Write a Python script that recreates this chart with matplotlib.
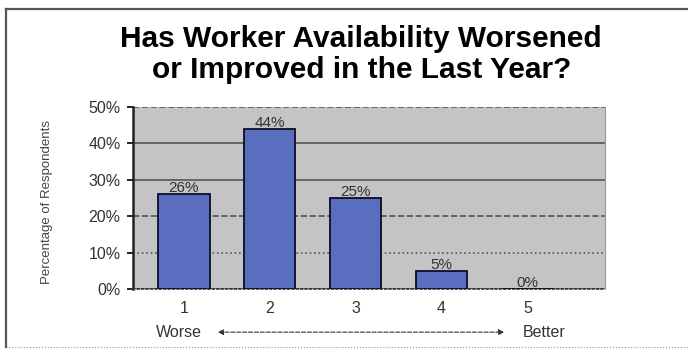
import matplotlib.pyplot as plt
from matplotlib.lines import Line2D

plt.rcParams['font.family'] = ['Liberation Sans', 'DejaVu Sans']

ratings = [1, 2, 3, 4, 5]
tick_labels = ['1', '2', '3', '4', '5']
pct = [26, 44, 25, 5, 0]
bar_labels = ['26%', '44%', '25%', '5%', '0%']
y_ticks = [0, 10, 20, 30, 40, 50]
title_lines = ['Has Worker Availability Worsened', 'or Improved in the Last Year?']

fig = plt.figure(figsize=(6.88, 3.5), dpi=100)
ax = fig.add_axes([0.1933, 0.1743, 0.686, 0.52])
ax.set_facecolor('#c4c4c4')

ax.bar(ratings, pct, width=0.6, color='#5a6ec0', edgecolor='#0c0c28',
       linewidth=1.3, zorder=3)
for x, v, lab in zip(ratings, pct, bar_labels):
    ax.text(x, v - 0.3, lab, ha='center', va='bottom', fontsize=11,
            color='#333333', zorder=4)

ax.set_xlim(0.41, 5.9)
ax.set_ylim(0, 50)
ax.set_yticks(y_ticks)
ax.set_yticklabels([f'{t}%' for t in y_ticks], fontsize=11.5, color='#333333')
ax.set_xticks(ratings)
ax.set_xticklabels(tick_labels, fontsize=11.5, color='#333333')
ax.tick_params(axis='x', length=0, pad=9)
ax.tick_params(axis='y', length=4, width=1.2, direction='out', pad=5)

ax.yaxis.grid(True, color='#555555', linewidth=1.2, zorder=1)
styles = ['-', ':', '--', '-', '-', '--']
for gl, ls in zip(ax.get_ygridlines(), styles):
    gl.set_linestyle(ls)

ax.spines['top'].set_visible(False)
ax.spines['right'].set_color('#999999')
ax.spines['left'].set_linewidth(1.8)
ax.spines['left'].set_color('#222222')
ax.spines['bottom'].set_linestyle(':')
ax.spines['bottom'].set_color('#333333')
ax.spines['bottom'].set_linewidth(1.2)

ax.set_ylabel('Percentage of Respondents', fontsize=9.5, color='#444444')
ax.yaxis.set_label_coords(-0.17, 0.48)

fig.text(0.525, 0.8657, title_lines[0], ha='center', va='baseline',
         fontsize=21.5, fontweight='bold')
fig.text(0.525, 0.777, title_lines[1], ha='center', va='baseline',
         fontsize=21.5, fontweight='bold')

fig.text(0.260, 0.051, 'Worse', ha='center', va='center', fontsize=11.5,
         color='#333333')
fig.text(0.791, 0.051, 'Better', ha='center', va='center', fontsize=11.5,
         color='#333333')
ax.annotate('', xy=(0.737, 0.051), xytext=(0.3125, 0.051),
            xycoords='figure fraction',
            arrowprops=dict(arrowstyle='<|-|>', linestyle='--', color='#333333',
                            lw=0.8, mutation_scale=8))

# frame round the chart
fig.add_artist(Line2D([0.0087, 0.0087], [0.008, 0.974], transform=fig.transFigure,
                      color='#555555', linewidth=1.6))
fig.add_artist(Line2D([0.0087, 1.0], [0.974, 0.974], transform=fig.transFigure,
                      color='#555555', linewidth=1.6))
fig.add_artist(Line2D([0.0087, 1.0], [0.008, 0.008], transform=fig.transFigure,
                      color='#999999', linewidth=0.8, linestyle=':'))

fig.savefig('out.png', dpi=100)
